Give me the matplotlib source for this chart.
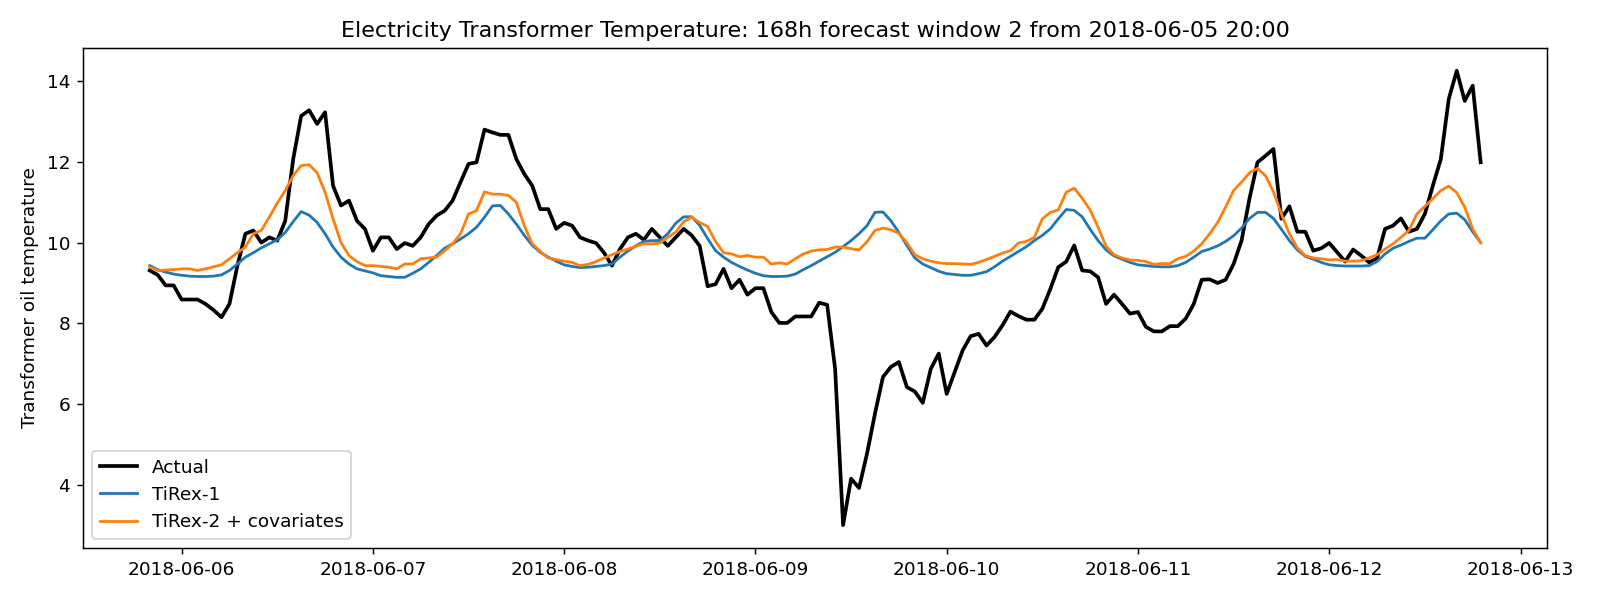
import pandas as pd
import matplotlib
matplotlib.use("Agg")
import matplotlib.pyplot as plt
import matplotlib.dates as mdates

# hourly timestamps of the forecast window
start = "2018-06-05 20:00"
n_hours = 168

# observed oil temperature
actual = [
    9.31, 9.2, 8.94, 8.94, 8.59, 8.59, 8.59, 8.48, 8.33, 8.15, 8.48, 9.43, 10.22, 10.3,
    10.0, 10.13, 10.05, 10.54, 12.07, 13.14, 13.28, 12.94, 13.23, 11.41, 10.92, 11.04, 10.54, 10.34,
    9.8, 10.13, 10.13, 9.84, 9.99, 9.92, 10.13, 10.46, 10.67, 10.79, 11.04, 11.5, 11.95, 11.99,
    12.8, 12.73, 12.67, 12.67, 12.07, 11.7, 11.41, 10.83, 10.83, 10.34, 10.49, 10.42, 10.13, 10.05,
    9.99, 9.75, 9.43, 9.84, 10.13, 10.22, 10.07, 10.34, 10.13, 9.92, 10.13, 10.34, 10.18, 9.92,
    8.92, 8.97, 9.35, 8.87, 9.08, 8.71, 8.87, 8.87, 8.28, 8.01, 8.01, 8.17, 8.17,
    8.17, 8.51, 8.46, 6.87, 3.0, 4.15, 3.92, 4.77, 5.76, 6.67, 6.92, 7.04, 6.42, 6.31, 6.03,
    6.87, 7.25, 6.25, 6.79, 7.33, 7.68, 7.74, 7.45, 7.66, 7.95, 8.29, 8.18, 8.09, 8.09,
    8.36, 8.85, 9.39, 9.53, 9.93, 9.31, 9.29, 9.14, 8.48, 8.71, 8.48, 8.24, 8.28, 7.91,
    7.8, 7.8, 7.93, 7.93, 8.12, 8.48, 9.08, 9.09, 9.0, 9.08, 9.47, 10.05, 11.1,
    11.99, 12.15, 12.32, 10.59, 10.9, 10.27, 10.27, 9.8, 9.86, 9.99, 9.76, 9.53, 9.83, 9.68,
    9.51, 9.61, 10.34, 10.42, 10.6, 10.27, 10.34, 10.71, 11.41, 12.07, 13.56, 14.26, 13.51, 13.89, 11.99,
]

# TiRex-1 forecast
tirex1 = [
    9.43, 9.33, 9.27, 9.22, 9.19, 9.17, 9.16, 9.16, 9.17, 9.2, 9.31, 9.47, 9.64, 9.75,
    9.87, 9.97, 10.07, 10.25, 10.52, 10.77, 10.68, 10.5, 10.22, 9.89, 9.64, 9.47, 9.35, 9.3,
    9.25, 9.18, 9.16, 9.14, 9.14, 9.24, 9.35, 9.51, 9.68, 9.86, 9.97, 10.09, 10.22, 10.38,
    10.63, 10.91, 10.92, 10.71, 10.46, 10.18, 9.93, 9.76, 9.64, 9.54, 9.45, 9.41, 9.38, 9.39,
    9.41, 9.43, 9.47, 9.64, 9.79, 9.92, 10.03, 10.05, 10.05, 10.22, 10.48, 10.64, 10.64, 10.43,
    10.1, 9.8, 9.64, 9.51, 9.41, 9.32, 9.24, 9.18, 9.16, 9.16, 9.17, 9.22, 9.33,
    9.43, 9.54, 9.65, 9.76, 9.9, 10.05, 10.22, 10.42, 10.75, 10.76, 10.54, 10.25, 9.93, 9.62,
    9.47, 9.38, 9.29, 9.23, 9.21, 9.19, 9.19, 9.23, 9.28, 9.4, 9.54, 9.66, 9.78, 9.9, 10.05,
    10.18, 10.34, 10.59, 10.82, 10.8, 10.64, 10.33, 10.05, 9.82, 9.67, 9.59, 9.51, 9.45, 9.43,
    9.41, 9.4, 9.4, 9.43, 9.51, 9.64, 9.78, 9.84, 9.92, 10.03, 10.17, 10.36, 10.6,
    10.75, 10.75, 10.6, 10.33, 10.05, 9.82, 9.66, 9.59, 9.51, 9.45, 9.43, 9.42, 9.42, 9.42,
    9.43, 9.53, 9.72, 9.86, 9.94, 10.03, 10.11, 10.11, 10.32, 10.54, 10.71, 10.73, 10.57, 10.27, 10.0,
]

# TiRex-2 + covariates forecast
tirex2 = [
    9.39, 9.31, 9.32, 9.33, 9.35, 9.35, 9.31, 9.35, 9.4, 9.45, 9.6, 9.75, 9.89, 10.22,
    10.3, 10.63, 10.98, 11.29, 11.66, 11.91, 11.93, 11.73, 11.25, 10.59, 10.0, 9.68, 9.53, 9.43,
    9.43, 9.41, 9.39, 9.35, 9.47, 9.47, 9.6, 9.62, 9.64, 9.8, 9.97, 10.22, 10.71, 10.79,
    11.26, 11.2, 11.2, 11.17, 11.0, 10.42, 9.97, 9.78, 9.62, 9.58, 9.54, 9.51, 9.43, 9.46,
    9.53, 9.62, 9.7, 9.78, 9.84, 9.91, 9.97, 9.97, 9.99, 10.13, 10.26, 10.52, 10.63, 10.5,
    10.4, 10.03, 9.75, 9.72, 9.65, 9.68, 9.64, 9.64, 9.47, 9.5, 9.47, 9.6, 9.72,
    9.79, 9.82, 9.83, 9.89, 9.89, 9.85, 9.82, 10.02, 10.3, 10.36, 10.32, 10.23, 10.0, 9.7,
    9.6, 9.54, 9.5, 9.48, 9.48, 9.47, 9.46, 9.51, 9.58, 9.66, 9.74, 9.8, 9.99, 10.03, 10.13,
    10.59, 10.75, 10.81, 11.25, 11.35, 11.1, 10.81, 10.38, 9.91, 9.7, 9.62, 9.57, 9.56, 9.53,
    9.46, 9.48, 9.48, 9.6, 9.66, 9.79, 9.97, 10.22, 10.5, 10.88, 11.29, 11.5, 11.73,
    11.84, 11.66, 11.26, 10.71, 10.22, 9.87, 9.68, 9.62, 9.6, 9.57, 9.58, 9.54, 9.54, 9.55,
    9.62, 9.7, 9.84, 9.97, 10.13, 10.3, 10.71, 10.9, 11.09, 11.29, 11.4, 11.24, 10.88, 10.34, 10.0,
]

times = pd.date_range(start, periods=n_hours, freq="h")

# 12 x 4.5 inches at 133.3 dpi -> 1600 x 600 px
fig, ax = plt.subplots(figsize=(12, 4.5), dpi=400 / 3)
fig.subplots_adjust(left=0.052, right=0.967, bottom=0.087, top=0.92)

ax.plot(times, actual, color="black", linewidth=2, label="Actual")
ax.plot(times, tirex1, color="#1f77b4", linewidth=1.5, label="TiRex-1")
ax.plot(times, tirex2, color="#ff7f0e", linewidth=1.5, label="TiRex-2 + covariates")

ax.xaxis.set_major_locator(mdates.DayLocator())
ax.xaxis.set_major_formatter(mdates.DateFormatter("%Y-%m-%d"))

ax.set_title("Electricity Transformer Temperature: 168h forecast window 2 from 2018-06-05 20:00")
ax.set_ylabel("Transformer oil temperature")
ax.legend(loc="lower left")

fig.savefig("out.png")
